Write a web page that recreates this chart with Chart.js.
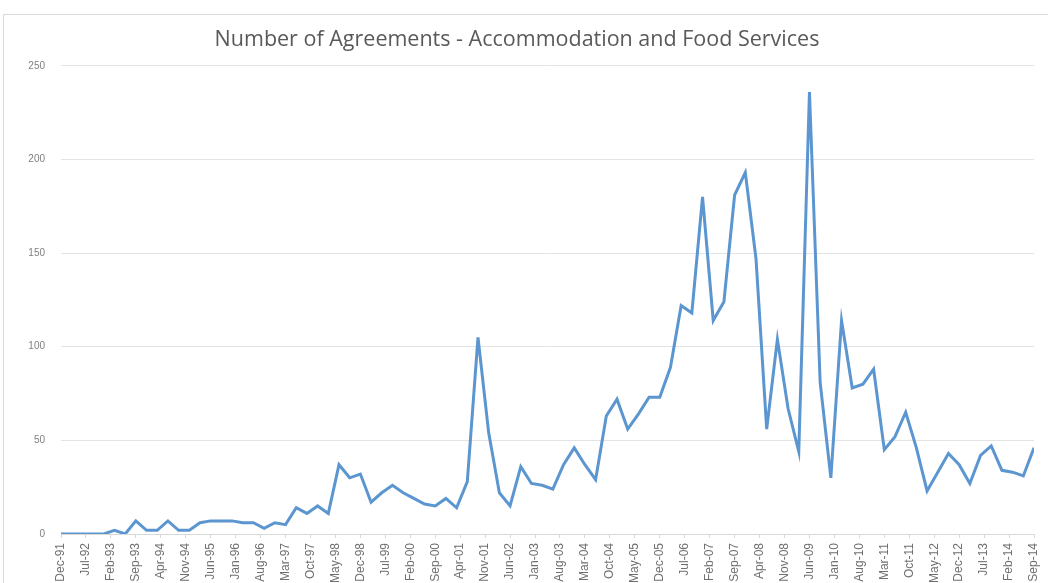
<!DOCTYPE html>
<html>
<head>
<meta charset="utf-8">
<script src="https://cdn.jsdelivr.net/npm/chart.js@4.4.1/dist/chart.umd.min.js"></script>
<style>
  html, body { margin: 0; padding: 0; background: #fff; }
  #wrap { position: relative; width: 1048px; height: 583px; overflow: hidden; }
  #frame { position: absolute; left: 3px; top: 14px; width: 1100px; height: 640px;
           border-left: 1px solid #d9d9d9; border-top: 1px solid #d9d9d9; }
  canvas { position: absolute; left: 0; top: 0; }
</style>
</head>
<body>
<div id="wrap">
  <div id="frame"></div>
  <canvas id="agreementsChart" width="1048" height="583"></canvas>
</div>
<script>
// quarterly counts, Dec-91 .. Sep-14
const agreements = [
  0, 0, 0, 0, 0, 2, 0, 7, 2, 2,
  7, 2, 2, 6, 7, 7, 7, 6, 6, 3,
  6, 5, 14, 11, 15, 11, 37, 30, 32, 17,
  22, 26, 22, 19, 16, 15, 19, 14, 28, 105,
  54, 22, 15, 36, 27, 26, 24, 37, 46, 37,
  29, 63, 72, 56, 64, 73, 73, 89, 122, 118,
  180, 114, 124, 181, 193, 147, 56, 104, 67, 44,
  236, 81, 30, 114, 78, 80, 88, 45, 52, 65,
  46, 23, 33, 43, 37, 27, 42, 47, 34, 33,
  31, 46
];

// axis labels, every 7 months starting Dec-91
const monthLabels = [
  'Dec-91', 'Jul-92', 'Feb-93', 'Sep-93', 'Apr-94', 'Nov-94', 'Jun-95', 'Jan-96',
  'Aug-96', 'Mar-97', 'Oct-97', 'May-98', 'Dec-98', 'Jul-99', 'Feb-00', 'Sep-00',
  'Apr-01', 'Nov-01', 'Jun-02', 'Jan-03', 'Aug-03', 'Mar-04', 'Oct-04', 'May-05',
  'Dec-05', 'Jul-06', 'Feb-07', 'Sep-07', 'Apr-08', 'Nov-08', 'Jun-09', 'Jan-10',
  'Aug-10', 'Mar-11', 'Oct-11', 'May-12', 'Dec-12', 'Jul-13', 'Feb-14', 'Sep-14'
];

const yTicks = [0, 50, 100, 150, 200, 250];

// x = months since Dec-91, one point per quarter
const points = agreements.map((v, i) => ({x: i * 3, y: v}));

const ctx = document.getElementById('agreementsChart').getContext('2d');
const agreementsChart = new Chart(ctx, {
  type: 'line',
  data: {
    datasets: [{
      label: 'Number of Agreements',
      data: points,
      borderColor: '#5b96d0',
      borderWidth: 3,
      pointRadius: 0,
      tension: 0,
      fill: false
    }]
  },
  options: {
    responsive: false,
    animation: false,
    layout: {padding: {left: 0, right: 14, bottom: 0, top: 0}},
    plugins: {
      legend: {display: false},
      tooltip: {enabled: false},
      title: {
        display: true,
        text: 'Number of Agreements - Accommodation and Food Services',
        color: '#595959',
        font: {family: 'Open Sans', size: 21.5, weight: 'normal'},
        padding: {top: 27, bottom: 13}
      }
    },
    scales: {
      x: {
        type: 'linear',
        min: 0,
        max: (monthLabels.length - 1) * 7,
        afterBuildTicks: (scale) => {
          scale.ticks = monthLabels.map((_, i) => ({value: i * 7}));
        },
        afterFit: (scale) => {
          scale.height = 49;
          scale.paddingLeft = 0;
          scale.paddingRight = 0;
        },
        grid: {
          drawOnChartArea: false,
          drawTicks: true,
          tickLength: 4,
          color: '#d9d9d9'
        },
        border: {display: true, color: '#d9d9d9'},
        ticks: {
          autoSkip: false,
          minRotation: 90,
          maxRotation: 90,
          padding: 5,
          color: '#6f6f6f',
          font: {family: 'Liberation Sans Narrow, Liberation Sans', size: 12},
          callback: (value) => monthLabels[Math.round(value / 7)]
        }
      },
      y: {
        min: 0,
        max: 250,
        afterBuildTicks: (scale) => {
          scale.ticks = yTicks.map(v => ({value: v}));
        },
        afterFit: (scale) => { scale.width = 61; },
        grid: {color: '#e3e3e3', drawTicks: false},
        border: {display: false},
        ticks: {
          padding: 16,
          color: '#7f7f7f',
          font: {family: 'Liberation Sans', size: 10}
        }
      }
    }
  }
});
</script>
</body>
</html>
